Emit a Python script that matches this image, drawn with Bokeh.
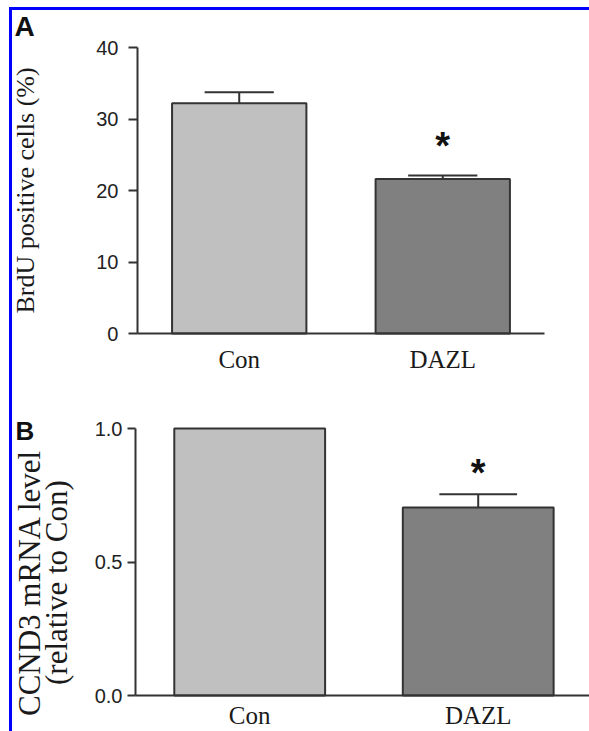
import math
from bokeh.plotting import figure
from bokeh.models import Range1d, FixedTicker, NumeralTickFormatter
from bokeh.layouts import column
from bokeh.embed import file_html
from bokeh.resources import INLINE
from bokeh.core.properties import value

# ---------------- data ----------------
groups = ["Con", "DAZL"]
brdu_mean = [32.2, 21.6]
brdu_sem = [1.55, 0.5]
brdu_ticks = [0, 10, 20, 30, 40]
ccnd3_mean = [1.0, 0.704]
ccnd3_sem = [0.0, 0.05]
ccnd3_ticks = [0.0, 0.5, 1.0]
significance = ["", "*"]

# ---------------- style ----------------
SERIF = "Liberation Serif"
SANS = "Liberation Sans"
bar_colors = ["#c0c0c0", "#808080"]
DARK = "#333333"
TXT = "#1a1a1a"
xpos = [i + 0.5 for i in range(len(groups))]


def make_panel(means, sems, yticks, ybound, xr, yr, width, height,
               star_offset, tick_out, tick_standoff, xlab_standoff):
    p = figure(width=width, height=height, output_backend="svg",
               toolbar_location=None, x_range=Range1d(*xr),
               y_range=Range1d(*yr), min_border=0,
               min_border_left=0, min_border_right=0,
               min_border_top=0, min_border_bottom=0)
    p.outline_line_color = None
    p.grid.visible = False
    p.background_fill_color = "white"
    p.border_fill_color = "white"

    p.vbar(x=xpos, top=means, bottom=0, width=0.66, fill_color=bar_colors,
           line_color=DARK, line_width=2)
    ex, ey0, ey1 = [], [], []
    for x, m, s in zip(xpos, means, sems):
        if s > 0:
            ex.append(x); ey0.append(m); ey1.append(m + s)
    p.segment(x0=ex, y0=ey0, x1=ex, y1=ey1, line_color=DARK, line_width=2)
    p.segment(x0=[x - 0.17 for x in ex], y0=ey1, x1=[x + 0.17 for x in ex],
              y1=ey1, line_color=DARK, line_width=2)
    sx, sy, st = [], [], []
    for x, m, s, t in zip(xpos, means, sems, significance):
        if t:
            sx.append(x); sy.append(m + s); st.append(t)
    p.text(x=sx, y=sy, text=st, y_offset=-star_offset, text_align="center",
           text_baseline="middle", text_font=value(SANS),
           text_font_style="bold", text_font_size="38px", text_color="#111111")

    ya = p.yaxis[0]
    ya.fixed_location = 0
    ya.bounds = (0, ybound)
    ya.ticker = FixedTicker(ticks=yticks)
    ya.major_tick_out = tick_out
    ya.major_tick_in = 0
    ya.minor_tick_out = 0
    ya.minor_tick_in = 0
    ya.axis_line_width = 2
    ya.axis_line_color = DARK
    ya.major_tick_line_width = 2
    ya.major_tick_line_color = DARK
    ya.major_label_standoff = tick_standoff
    ya.major_label_text_font = SANS
    ya.major_label_text_font_size = "20px"
    ya.major_label_text_color = "#222222"

    xa = p.xaxis[0]
    xa.fixed_location = 0
    xa.bounds = (0, len(groups))
    xa.ticker = FixedTicker(ticks=xpos)
    xa.major_label_overrides = {x: g for x, g in zip(xpos, groups)}
    xa.major_tick_out = 0
    xa.major_tick_in = 0
    xa.minor_tick_out = 0
    xa.minor_tick_in = 0
    xa.axis_line_width = 2
    xa.axis_line_color = DARK
    xa.major_label_standoff = xlab_standoff
    xa.major_label_text_font = SERIF
    xa.major_label_text_font_size = "25px"
    xa.major_label_text_color = TXT
    return p


# Panel A
pa = make_panel(brdu_mean, brdu_sem, brdu_ticks, 40,
                (-0.614, 2.221), (-8.671, 45.175), 577, 385,
                29, 9, 10, 12)
pa.yaxis[0].axis_label = "BrdU positive cells (%)"
pa.yaxis[0].axis_label_text_font = SERIF
pa.yaxis[0].axis_label_text_font_style = "normal"
pa.yaxis[0].axis_label_text_font_size = "26px"
pa.yaxis[0].axis_label_text_color = TXT
pa.yaxis[0].axis_label_standoff = 53
pa.text(x=[-0.604], y=[42.87], text=["A"], text_font=value(SANS),
        text_font_style="bold", text_font_size="28px", text_color="#111111",
        text_baseline="middle", text_align="left")

# Panel B
pb = make_panel(ccnd3_mean, ccnd3_sem, ccnd3_ticks, 1.0,
                (-0.538, 1.987), (-0.1348, 1.1236), 577, 336,
                21, 8, 5, 6)
pb.yaxis[0].formatter = NumeralTickFormatter(format="0.0")
pb.text(x=[-0.525], y=[0.9906], text=["B"], text_font=value(SANS),
        text_font_style="bold", text_font_size="26px", text_color="#111111",
        text_baseline="middle", text_align="left")
pb.text(x=[-0.4617, -0.3457], y=[0.423, 0.423],
        text=["CCND3 mRNA level", "(relative to Con)"], angle=math.pi / 2,
        text_font=value(SERIF), text_font_size="31px", text_color=TXT,
        text_align="center", text_baseline="middle")

layout = column(pa, pb, spacing=0, margin=(7, 0, 0, 9),
                styles={"border-top": "3px solid #0000ff",
                        "border-left": "3px solid #0000ff"})

open("out.html", "w").write(file_html(layout, INLINE))
